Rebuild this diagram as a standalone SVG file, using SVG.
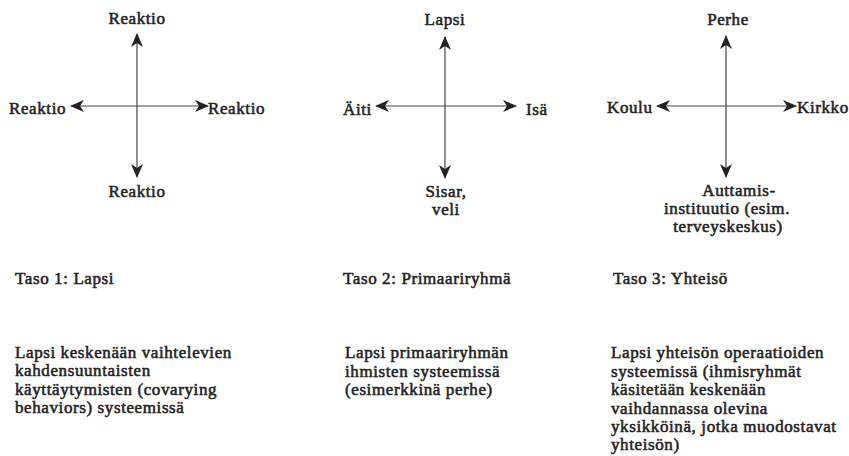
<svg xmlns="http://www.w3.org/2000/svg" width="849" height="456" viewBox="0 0 849 456">
<style>
text{font-family:'Liberation Serif','Times New Roman',serif;font-weight:normal;font-size:17px;letter-spacing:0.6px;fill:#222;stroke:#222;stroke-width:0.55px}
.m{text-anchor:middle}
.ln{stroke:#444;stroke-width:1.2;fill:none}
</style>
<defs>
<marker id="ah" markerUnits="userSpaceOnUse" markerWidth="14" markerHeight="12" viewBox="0 0 14 12" refX="13" refY="6" orient="auto">
<path d="M0,0 L14,6 L0,12 L4,6 Z" fill="#222"/>
</marker>
</defs>
<rect width="849" height="456" fill="#fff"/>
<g id="connectors">
<line class="ln" x1="137" y1="106" x2="137" y2="34" marker-end="url(#ah)"/>
<line class="ln" x1="137" y1="106" x2="137" y2="177" marker-end="url(#ah)"/>
<line class="ln" x1="137" y1="106" x2="71" y2="106" marker-end="url(#ah)"/>
<line class="ln" x1="137" y1="106" x2="208" y2="106" marker-end="url(#ah)"/>
<line class="ln" x1="445" y1="106" x2="445" y2="37" marker-end="url(#ah)"/>
<line class="ln" x1="445" y1="106" x2="445" y2="178" marker-end="url(#ah)"/>
<line class="ln" x1="445" y1="106" x2="376" y2="106" marker-end="url(#ah)"/>
<line class="ln" x1="445" y1="106" x2="516" y2="106" marker-end="url(#ah)"/>
<line class="ln" x1="726" y1="106" x2="726" y2="36" marker-end="url(#ah)"/>
<line class="ln" x1="726" y1="106" x2="726" y2="177" marker-end="url(#ah)"/>
<line class="ln" x1="726" y1="106" x2="657" y2="106" marker-end="url(#ah)"/>
<line class="ln" x1="726" y1="106" x2="796" y2="106" marker-end="url(#ah)"/>
</g>
<g id="p1-top"><text class="m" x="137" y="24">Reaktio</text></g>
<g id="p1-left"><text x="9" y="114">Reaktio</text></g>
<g id="p1-right"><text x="208" y="114">Reaktio</text></g>
<g id="p1-bottom"><text class="m" x="137" y="197">Reaktio</text></g>
<g id="p2-top"><text class="m" x="445" y="25">Lapsi</text></g>
<g id="p2-left"><text x="343" y="115">Äiti</text></g>
<g id="p2-right"><text x="526" y="115">Isä</text></g>
<g id="p2-bottom"><text class="m" x="446" y="197">Sisar,</text><text class="m" x="446" y="215">veli</text></g>
<g id="p3-top"><text class="m" x="728" y="25">Perhe</text></g>
<g id="p3-left"><text x="607" y="113">Koulu</text></g>
<g id="p3-right"><text x="797" y="113">Kirkko</text></g>
<g id="p3-bottom"><text class="m" x="739" y="196">Auttamis-</text><text class="m" x="727" y="214">instituutio (esim.</text><text class="m" x="728" y="232">terveyskeskus)</text></g>
<g id="level1">
<text x="15" y="284">Taso 1: Lapsi</text>
<text x="15" y="358">Lapsi keskenään vaihtelevien</text>
<text x="15" y="376">kahdensuuntaisten</text>
<text x="15" y="395">käyttäytymisten (covarying</text>
<text x="15" y="413">behaviors) systeemissä</text>
</g>
<g id="level2">
<text x="343" y="284">Taso 2: Primaariryhmä</text>
<text x="345" y="358">Lapsi primaariryhmän</text>
<text x="345" y="377">ihmisten systeemissä</text>
<text x="345" y="395">(esimerkkinä perhe)</text>
</g>
<g id="level3">
<text x="613" y="284">Taso 3: Yhteisö</text>
<text x="611" y="358">Lapsi yhteisön operaatioiden</text>
<text x="611" y="377">systeemissä (ihmisryhmät</text>
<text x="611" y="395">käsitetään keskenään</text>
<text x="611" y="414">vaihdannassa olevina</text>
<text x="611" y="432">yksikköinä, jotka muodostavat</text>
<text x="611" y="450">yhteisön)</text>
</g>
</svg>
